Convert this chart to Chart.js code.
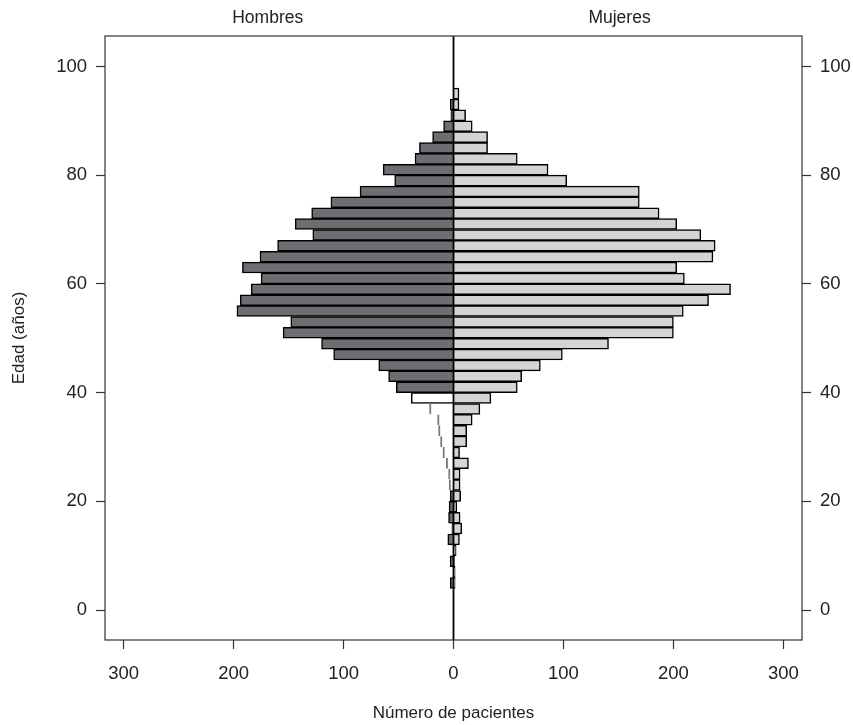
<!DOCTYPE html>
<html>
<head>
<meta charset="utf-8">
<script src="https://cdn.jsdelivr.net/npm/chart.js@4.4.1/dist/chart.umd.min.js"></script>
<style>
  html, body { margin: 0; padding: 0; background: #fff; }
  #wrap { width: 853px; height: 725px; }
</style>
</head>
<body>
<div id="wrap"><canvas id="piramide"></canvas></div>
<script>
// edad de inicio de cada grupo (grupos de 2 años)
var edades = [94, 92, 90, 88, 86, 84, 82, 80, 78, 76, 74, 72, 70, 68, 66, 64, 62, 60, 58, 56, 54, 52,
  50, 48, 46, 44, 42, 40, 38, 36, 34, 32, 30, 28, 26, 24, 22, 20, 18, 16, 14, 12, 10, 8, 6, 4];
var hombres = [0, 3, 2.4, 9, 19, 31, 35, 64, 53.5, 85, 111.5, 129, 144, 128, 160, 176, 192, 175, 184, 194, 197, 148,
  155, 120, 109, 68, 59, 52, 38.4, 21.8, 14.5, 13.6, 11.8, 9.6, 6.6, 4.5, 4, 3, 4, 4.5, 1.5, 5.2, 0, 3, 0, 3];
var mujeres = [5, 5, 11, 17, 31, 31, 58, 86, 103, 169, 169, 187, 203, 225, 238, 236, 203, 210, 252, 232, 209, 200,
  200, 141, 99, 79, 62, 58, 34, 24, 17, 12, 12, 5.5, 13.6, 6, 6, 6.5, 3, 6, 7.5, 5.4, 2.4, 1, 1.5, 1.5];
var ticksEdad = [0, 20, 40, 60, 80, 100];
var ticksPacientes = [-300, -200, -100, 0, 100, 200, 300];
var grupos = ['Hombres', 'Mujeres'];

var fuente = "'Liberation Sans', Arial, Helvetica, sans-serif";
Chart.defaults.font.family = fuente;
Chart.defaults.font.size = 18.5;
Chart.defaults.color = '#222';

function soloLinea(i) {
  var e = edades[i];
  return e >= 22 && e < 38;
}

var marco = {
  id: 'marco',
  afterDatasetsDraw: function(chart) {
    var a = chart.chartArea;
    var ctx = chart.ctx;
    var sx = chart.scales.x;
    var x0 = sx.getPixelForValue(0);
    ctx.save();
    ctx.strokeStyle = '#000';
    ctx.lineWidth = 1.8;
    ctx.beginPath();
    ctx.moveTo(x0, a.top);
    ctx.lineTo(x0, a.bottom);
    ctx.stroke();
    ctx.strokeStyle = '#333';
    ctx.lineWidth = 1.2;
    ctx.strokeRect(a.left, a.top, a.right - a.left, a.bottom - a.top);
    ctx.fillStyle = '#222';
    ctx.font = '17.5px ' + fuente;
    ctx.textAlign = 'center';
    ctx.textBaseline = 'middle';
    ctx.fillText(grupos[0], sx.getPixelForValue(-169), 18);
    ctx.fillText(grupos[1], sx.getPixelForValue(151), 18);
    ctx.restore();
  }
};

function ejeEdad(pos, ancho) {
  return {
    type: 'linear',
    position: pos,
    min: -5.5,
    max: 105.6,
    offset: false,
    afterBuildTicks: function(s) { s.ticks = ticksEdad.map(function(v) { return { value: v }; }); },
    afterFit: function(s) { s.width = ancho; },
    grid: { offset: false, drawOnChartArea: false, tickLength: 9, tickColor: '#333', tickWidth: 1.2 },
    border: { display: false },
    ticks: { padding: 9, color: '#222' },
    title: pos === 'left'
      ? { display: true, text: 'Edad (años)', padding: { top: 9 }, color: '#222', font: { size: 17 } }
      : { display: false }
  };
}

var ctx = document.getElementById('piramide').getContext('2d');
var myChart = new Chart(ctx, {
  type: 'bar',
  data: {
    datasets: [{
      label: grupos[0],
      data: hombres.map(function(v, i) { return { x: -v, y: edades[i] + 1 }; }),
      grouped: false,
      barPercentage: 1,
      categoryPercentage: 1,
      backgroundColor: function(c) {
        if (edades[c.dataIndex] === 38) return '#ffffff';
        if (soloLinea(c.dataIndex)) return 'rgba(0,0,0,0)';
        return '#6d6e72';
      },
      borderColor: function(c) { return soloLinea(c.dataIndex) ? '#7a7a7a' : '#000'; },
      borderWidth: function(c) {
        return soloLinea(c.dataIndex) ? { left: 1.3, top: 0, right: 0, bottom: 0 } : 1.5;
      },
      yAxisID: 'y'
    }, {
      label: grupos[1],
      data: mujeres.map(function(v, i) { return { x: v, y: edades[i] + 1 }; }),
      grouped: false,
      barPercentage: 1,
      categoryPercentage: 1,
      backgroundColor: '#d3d4d6',
      borderColor: '#000',
      borderWidth: 1.5,
      yAxisID: 'y'
    }]
  },
  options: {
    indexAxis: 'y',
    responsive: true,
    maintainAspectRatio: false,
    animation: false,
    layout: { padding: { top: 36, left: 0, right: 0, bottom: 0 } },
    plugins: { legend: { display: false }, tooltip: { enabled: false } },
    scales: {
      x: {
        type: 'linear',
        min: -317,
        max: 317,
        offset: false,
        afterBuildTicks: function(s) { s.ticks = ticksPacientes.map(function(v) { return { value: v }; }); },
        afterFit: function(s) { s.height = 85; },
        grid: { offset: false, drawOnChartArea: false, tickLength: 9, tickColor: '#333', tickWidth: 1.2 },
        border: { display: false },
        ticks: { padding: 14, color: '#222', callback: function(v) { return Math.abs(v); } },
        title: { display: true, text: 'Número de pacientes', padding: { bottom: 1 }, color: '#222', font: { size: 17 } }
      },
      y: ejeEdad('left', 105),
      y2: ejeEdad('right', 51)
    }
  },
  plugins: [marco]
});
</script>
</body>
</html>
